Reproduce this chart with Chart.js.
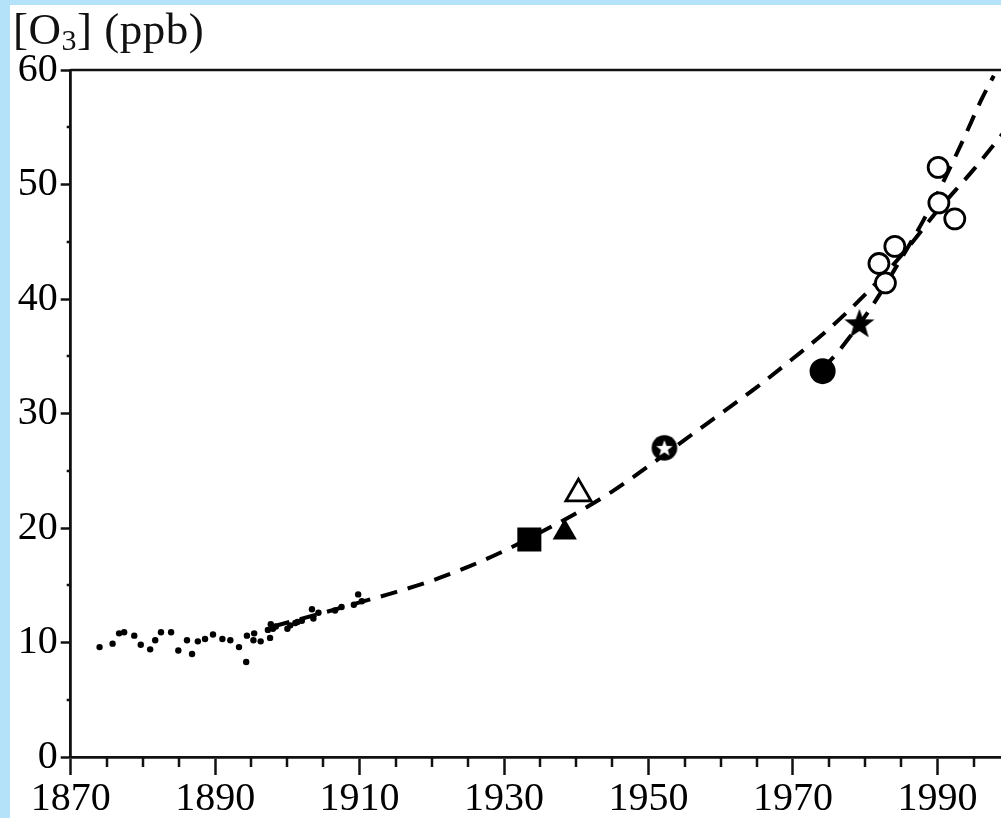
<!DOCTYPE html>
<html>
<head>
<meta charset="utf-8">
<script src="https://cdn.jsdelivr.net/npm/chart.js@4.4.0/dist/chart.umd.min.js"></script>
<style>
  html, body { margin: 0; padding: 0; }
  body { width: 1001px; height: 818px; background: #b4e2f8; position: relative; overflow: hidden; }
  #wrap { position: absolute; left: 10px; top: 5px; width: 991px; height: 813px; background: #fff; }
  #chart { position: absolute; left: 0; top: 0; }
  #title { position: absolute; left: 3px; top: 2px; font: 45px 'Liberation Serif', serif; letter-spacing: 0.5px; line-height: 45px; color: #111; white-space: nowrap; }
  #title sub { font-size: 30px; line-height: 0; vertical-align: -6px; }
</style>
</head>
<body>
<div id="wrap">
  <canvas id="chart" width="991" height="813"></canvas>
  <div id="title">[O<sub>3</sub>] (ppb)</div>
</div>
<script>
// early surface measurements (small dots)
const dotYears = [1874.0, 1875.8, 1876.7, 1877.4, 1878.8, 1879.7, 1881.0, 1881.7, 1882.5, 1883.9,
  1884.9, 1886.1, 1886.8, 1887.6, 1888.6, 1889.7, 1891.0, 1892.1, 1893.3, 1894.3,
  1894.4, 1895.3, 1895.4, 1896.3, 1897.3, 1897.6, 1897.7, 1898.0, 1898.4, 1900.0,
  1900.4, 1901.1, 1901.4, 1902.0, 1903.4, 1903.6, 1904.3, 1906.6, 1907.5, 1909.2,
  1909.8, 1910.3];
const dotValues = [9.6, 9.9, 10.8, 10.9, 10.6, 9.8, 9.4, 10.2, 10.9, 10.9,
  9.3, 10.2, 9.0, 10.1, 10.3, 10.7, 10.3, 10.2, 9.6, 8.3,
  10.6, 10.2, 10.8, 10.1, 11.1, 10.4, 11.6, 11.2, 11.4, 11.2,
  11.5, 11.7, 11.8, 11.9, 12.9, 12.1, 12.6, 12.8, 13.1, 13.3,
  14.2, 13.6];

// dashed fitted curves
const fitYears = [1898, 1905, 1910, 1915, 1920, 1925, 1930, 1935, 1940, 1945, 1950,
  1955, 1960, 1965, 1970, 1975, 1980, 1985, 1990, 1995, 1999];
const fitValues = [11.4, 12.6, 13.5, 14.4, 15.4, 16.6, 18.0, 19.6, 21.3, 23.2, 25.4,
  27.7, 30.0, 32.3, 34.8, 37.4, 40.4, 43.8, 47.7, 51.3, 54.4];
const steepYears = [1974, 1976, 1978, 1980, 1982, 1984, 1986, 1988, 1990, 1992, 1994, 1996, 1997.8];
const steepValues = [33.9, 35.2, 36.8, 38.5, 40.4, 42.5, 44.6, 46.8, 49.2, 51.8, 54.5, 57.3, 59.5];

// individual station series
const squareYears = [1933.5], squareValues = [19.0];
const filledTriangleYears = [1938.4], filledTriangleValues = [19.6];
const openTriangleYears = [1940.3], openTriangleValues = [23.0];
const starCircleYears = [1952.2], starCircleValues = [27.0];
const filledCircleYears = [1974.1], filledCircleValues = [33.7];
const starYears = [1979.2], starValues = [37.9];
const openCircleYears = [1984.1, 1981.9, 1982.8, 1990.1, 1990.2, 1992.4];
const openCircleValues = [44.6, 43.1, 41.4, 51.5, 48.4, 47.0];

// axis ticks
const yearTicks = [1870, 1875, 1880, 1885, 1890, 1895, 1900, 1905, 1910, 1915, 1920, 1925,
  1930, 1935, 1940, 1945, 1950, 1955, 1960, 1965, 1970, 1975, 1980, 1985, 1990, 1995];
const yearLabels = [1870, 1890, 1910, 1930, 1950, 1970, 1990];
const valueTicks = [0, 5, 10, 15, 20, 25, 30, 35, 40, 45, 50, 55, 60];
const valueLabels = [0, 10, 20, 30, 40, 50, 60];

const pts = (xs, ys) => xs.map((x, i) => ({ x, y: ys[i] }));

function starPath(g, cx, cy, ro, ri) {
  g.beginPath();
  for (let i = 0; i < 10; i++) {
    const r = i % 2 ? ri : ro;
    const a = -Math.PI / 2 + i * Math.PI / 5;
    g.lineTo(cx + r * Math.cos(a), cy + r * Math.sin(a));
  }
  g.closePath();
}
function makeMarker(size, draw) {
  const c = document.createElement('canvas');
  c.width = c.height = size;
  draw(c.getContext('2d'), size / 2);
  return c;
}
const starMarker = makeMarker(34, (g, c) => {
  starPath(g, c, c + 1.5, 15.8, 6.4);
  g.fillStyle = '#000';
  g.fill();
});
const starCircleMarker = makeMarker(28, (g, c) => {
  g.beginPath();
  g.arc(c, c, 12.8, 0, Math.PI * 2);
  g.fillStyle = '#000';
  g.fill();
  starPath(g, c, c + 0.8, 8.6, 3.6);
  g.fillStyle = '#fff';
  g.fill();
});

const ink = '#111';
const serif = { family: "'Liberation Serif', serif", size: 40 };

// short ticks every 5 units and the top frame line
const minorTicks = {
  id: 'minorTicks',
  afterDraw(chart) {
    const { ctx, chartArea: a, scales: { x, y } } = chart;
    ctx.save();
    ctx.strokeStyle = ink;
    ctx.lineWidth = 2.5;
    ctx.beginPath();
    ctx.moveTo(a.left, a.top);
    ctx.lineTo(a.right, a.top);
    yearTicks.filter(v => !yearLabels.includes(v)).forEach(v => {
      const px = Math.round(x.getPixelForValue(v));
      ctx.moveTo(px, a.bottom);
      ctx.lineTo(px, a.bottom + 10);
    });
    valueTicks.filter(v => !valueLabels.includes(v)).forEach(v => {
      const py = Math.round(y.getPixelForValue(v));
      ctx.moveTo(a.left, py);
      ctx.lineTo(a.left - 4, py);
    });
    ctx.stroke();
    ctx.restore();
  }
};

const dashed = {
  type: 'line',
  borderColor: '#000',
  borderWidth: 4,
  borderDash: [17, 11],
  pointRadius: 0,
  fill: false,
  cubicInterpolationMode: 'monotone',
  order: 2
};

new Chart(document.getElementById('chart'), {
  type: 'scatter',
  data: {
    datasets: [
      { data: pts(dotYears, dotValues), pointRadius: 3.2, backgroundColor: '#000', borderWidth: 0, order: 1 },
      Object.assign({ data: pts(fitYears, fitValues) }, dashed),
      Object.assign({ data: pts(steepYears, steepValues) }, dashed),
      { data: pts(squareYears, squareValues), pointStyle: 'rect', pointRadius: 17, backgroundColor: '#000', borderWidth: 0, order: 0 },
      { data: pts(filledTriangleYears, filledTriangleValues), pointStyle: 'triangle', pointRadius: 14, backgroundColor: '#000', borderWidth: 0, order: 0 },
      { data: pts(openTriangleYears, openTriangleValues), pointStyle: 'triangle', pointRadius: 14.5, backgroundColor: '#fff', borderColor: '#000', borderWidth: 2.8, order: 0 },
      { data: pts(starCircleYears, starCircleValues), pointStyle: starCircleMarker, order: 0 },
      { data: pts(filledCircleYears, filledCircleValues), pointStyle: 'circle', pointRadius: 13, backgroundColor: '#000', borderWidth: 0, order: 0 },
      { data: pts(starYears, starValues), pointStyle: starMarker, order: 0 },
      { data: pts(openCircleYears, openCircleValues), pointStyle: 'circle', pointRadius: 10, backgroundColor: '#fff', borderColor: '#000', borderWidth: 2.8, order: 0 }
    ]
  },
  options: {
    responsive: false,
    animation: false,
    events: [],
    layout: { autoPadding: false, padding: { top: 65, right: 0, left: 0, bottom: 0 } },
    plugins: { legend: { display: false }, tooltip: { enabled: false } },
    scales: {
      x: {
        type: 'linear',
        min: 1870,
        max: 1998.8,
        afterBuildTicks: scale => { scale.ticks = yearTicks.map(v => ({ value: v })); },
        afterFit: scale => { scale.height = 61; },
        border: { display: true, color: ink, width: 2.8 },
        grid: {
          drawOnChartArea: false,
          drawTicks: true,
          tickLength: 18,
          tickWidth: 2.5,
          tickColor: c => (c.tick && yearLabels.includes(c.tick.value)) ? ink : 'rgba(0,0,0,0)'
        },
        ticks: {
          color: '#000',
          font: serif,
          padding: 0,
          maxRotation: 0,
          autoSkip: false,
          callback: v => yearLabels.includes(v) ? String(v) : ''
        }
      },
      y: {
        min: 0,
        max: 60,
        afterBuildTicks: scale => { scale.ticks = valueTicks.map(v => ({ value: v })); },
        afterFit: scale => { scale.width = 60.7; },
        border: { display: true, color: ink, width: 2.8 },
        grid: {
          drawOnChartArea: false,
          drawTicks: true,
          tickLength: 10,
          tickWidth: 2.5,
          tickColor: c => (c.tick && valueLabels.includes(c.tick.value)) ? ink : 'rgba(0,0,0,0)'
        },
        ticks: {
          color: '#000',
          font: serif,
          padding: 3,
          autoSkip: false,
          callback: v => valueLabels.includes(v) ? String(v) : ''
        }
      }
    }
  },
  plugins: [minorTicks]
});
</script>
</body>
</html>
